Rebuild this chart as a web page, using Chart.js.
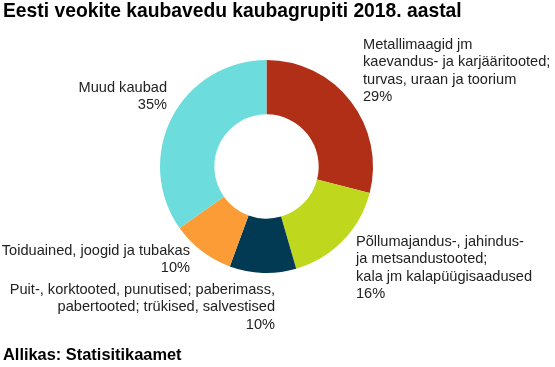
<!DOCTYPE html>
<html>
<head>
<meta charset="utf-8">
<script src="https://cdn.jsdelivr.net/npm/chart.js@4/dist/chart.umd.min.js"></script>
<style>
  html, body { margin: 0; padding: 0; background: #fff; }
  canvas { display: block; }
</style>
</head>
<body>
<canvas id="veod" width="555" height="367"></canvas>
<script>
// Kaubagrupid ja osakaalud (%)
const categories = [
    'Metallimaagid jm kaevandus- ja karjääritooted; turvas, uraan ja toorium',
    'Põllumajandus-, jahindus- ja metsandustooted; kala jm kalapüügisaadused',
    'Puit-, korktooted, punutised; paberimass, pabertooted; trükised, salvestised',
    'Toiduained, joogid ja tubakas',
    'Muud kaubad'
];
const shares = [29.0, 16.5, 10.1, 9.6, 34.8];
const shareLabels = ['29%', '16%', '10%', '10%', '35%'];
const colors = ['#b22f17', '#bfd81d', '#033a53', '#fb9c37', '#6cdcdc'];

// label text lines, last line is the percent
const labelLines = [
    ['Metallimaagid jm', 'kaevandus- ja karjääritooted;', 'turvas, uraan ja toorium'],
    ['Põllumajandus-, jahindus-', 'ja metsandustooted;', 'kala jm kalapüügisaadused'],
    ['Puit-, korktooted, punutised; paberimass,', 'pabertooted; trükised, salvestised'],
    ['Toiduained, joogid ja tubakas'],
    ['Muud kaubad']
];
// where each label block sits: x, y of first line, alignment
const labelPos = [
    { x: 363, y: 45, align: 'left' },
    { x: 356, y: 242, align: 'left' },
    { x: 275, y: 290, align: 'right' },
    { x: 190, y: 251, align: 'right' },
    { x: 167, y: 88, align: 'right' }
];

const textPlugin = {
    id: 'texts',
    afterDraw(chart) {
        const c = chart.ctx;
        c.save();
        c.fillStyle = '#000';
        c.textBaseline = 'middle';
        c.textAlign = 'left';
        c.font = 'bold 19.3px "Liberation Sans", Arial, sans-serif';
        c.fillText('Eesti veokite kaubavedu kaubagrupiti 2018. aastal', 3, 12);
        c.font = 'bold 16.4px "Liberation Sans", Arial, sans-serif';
        c.fillText('Allikas: Statisitikaamet', 3, 355);

        c.font = '14.6px "Liberation Sans", Arial, sans-serif';
        c.fillStyle = '#222';
        labelLines.forEach((lines, i) => {
            const p = labelPos[i];
            c.textAlign = p.align;
            const all = lines.concat([shareLabels[i]]);
            all.forEach((t, j) => c.fillText(t, p.x, p.y + j * 17.4));
        });
        c.restore();
    }
};

new Chart(document.getElementById('veod'), {
    type: 'doughnut',
    data: {
        labels: categories,
        datasets: [{
            data: shares,
            backgroundColor: colors,
            borderWidth: 0
        }]
    },
    options: {
        responsive: false,
        animation: false,
        cutout: '49%',
        layout: {
            padding: { top: 60, bottom: 94, left: 160, right: 182 }
        },
        plugins: {
            legend: { display: false },
            tooltip: { enabled: false }
        }
    },
    plugins: [textPlugin]
});
</script>
</body>
</html>
